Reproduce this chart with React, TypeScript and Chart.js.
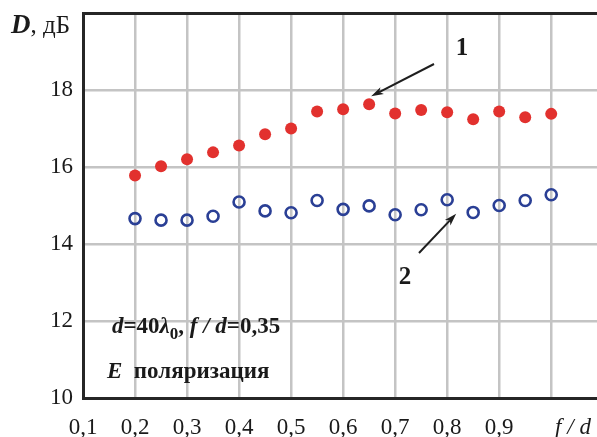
import React, { useEffect, useRef } from "react";
import { Chart, registerables } from "chart.js";

Chart.register(...registerables);

// f/d values of the measured points
const ratios = [0.2, 0.25, 0.3, 0.35, 0.4, 0.45, 0.5, 0.55, 0.6, 0.65, 0.7, 0.75, 0.8, 0.85, 0.9, 0.95, 1.0];
// Directivity, dB — curve 1 (filled markers)
const directivity1 = [15.78, 16.02, 16.2, 16.38, 16.56, 16.85, 17.0, 17.44, 17.5, 17.63, 17.39, 17.48, 17.42, 17.24, 17.44, 17.29, 17.38];
// Directivity, dB — curve 2 (open markers)
const directivity2 = [14.66, 14.62, 14.62, 14.72, 15.09, 14.86, 14.81, 15.13, 14.9, 14.99, 14.76, 14.89, 15.15, 14.82, 15.0, 15.13, 15.28];
// Axis ticks
const xTicks = [0.1, 0.2, 0.3, 0.4, 0.5, 0.6, 0.7, 0.8, 0.9, 1.0];
const yTicks = [10, 12, 14, 16, 18, 20];

const SERIF = '"Liberation Serif", "DejaVu Serif", serif';
const GRID = "#c4c4c4";
const BORDER = "#262626";

function arrow(ctx: CanvasRenderingContext2D, x1: number, y1: number, x2: number, y2: number) {
  const ang = Math.atan2(y2 - y1, x2 - x1);
  const head = 13;
  const spread = 0.3;
  ctx.save();
  ctx.strokeStyle = "#1e1e1e";
  ctx.fillStyle = "#1e1e1e";
  ctx.lineWidth = 2;
  ctx.beginPath();
  ctx.moveTo(x1, y1);
  ctx.lineTo(x2 - Math.cos(ang) * head * 0.7, y2 - Math.sin(ang) * head * 0.7);
  ctx.stroke();
  ctx.beginPath();
  ctx.moveTo(x2, y2);
  ctx.lineTo(x2 - head * Math.cos(ang - spread), y2 - head * Math.sin(ang - spread));
  ctx.lineTo(x2 - head * 0.7 * Math.cos(ang), y2 - head * 0.7 * Math.sin(ang));
  ctx.lineTo(x2 - head * Math.cos(ang + spread), y2 - head * Math.sin(ang + spread));
  ctx.closePath();
  ctx.fill();
  ctx.restore();
}

// Draws a run of text pieces with individual fonts, left to right
function runs(ctx: CanvasRenderingContext2D, x: number, y: number, parts: { t: string; f: string; dy?: number }[]) {
  let cx = x;
  for (const p of parts) {
    ctx.font = p.f;
    ctx.fillText(p.t, cx, y + (p.dy || 0));
    cx += ctx.measureText(p.t).width;
  }
}

const annotations = {
  id: "annotations",
  afterDraw(chart: Chart) {
    const { ctx, scales } = chart;
    const xs = scales.x;
    const ys = scales.y;
    ctx.save();
    ctx.fillStyle = "#1a1a1a";
    ctx.textBaseline = "middle";
    ctx.textAlign = "left";

    // Y axis title
    runs(ctx, 11, 26, [
      { t: "D", f: `bold italic 27px ${SERIF}` },
      { t: ", дБ", f: `25px ${SERIF}` },
    ]);

    // X axis title in place of the 1,0 label
    ctx.font = `italic 23px ${SERIF}`;
    ctx.textAlign = "center";
    ctx.fillText("f / d", 573, 428);
    ctx.textAlign = "left";

    // Parameters
    const b = `bold 23px ${SERIF}`;
    const bi = `bold italic 23px ${SERIF}`;
    runs(ctx, 112, 327, [
      { t: "d", f: bi },
      { t: "=40", f: b },
      { t: "λ", f: bi },
      { t: "0", f: `bold 17px ${SERIF}`, dy: 8 },
      { t: ", ", f: b },
      { t: "f / d", f: bi },
      { t: "=0,35", f: b },
    ]);
    runs(ctx, 107, 372, [
      { t: "E", f: bi },
      { t: "  поляризация", f: b },
    ]);

    // Curve labels and pointers
    ctx.font = `bold 25px ${SERIF}`;
    ctx.textAlign = "center";
    ctx.fillText("1", 462, 49);
    ctx.fillText("2", 405, 278);

    const p1 = { x: xs.getPixelForValue(0.65), y: ys.getPixelForValue(directivity1[9]) };
    arrow(ctx, 434, 64, p1.x + 2, p1.y - 8);
    const p2 = { x: xs.getPixelForValue(0.8), y: ys.getPixelForValue(directivity2[12]) };
    arrow(ctx, 419, 253, p2.x + 9, p2.y + 14);
    ctx.restore();
  },
};

const noAutoPadding = (s: any) => {
  s.paddingTop = 0;
  s.paddingBottom = 0;
  s.paddingLeft = 0;
  s.paddingRight = 0;
};

export default function App() {
  const ref = useRef<HTMLCanvasElement | null>(null);

  useEffect(() => {
    document.body.style.margin = "0";
    if (!ref.current) return;
    const chart = new Chart(ref.current, {
      type: "scatter",
      data: {
        datasets: [
          {
            label: "1",
            data: ratios.map((x, i) => ({ x, y: directivity1[i] })),
            pointStyle: "circle",
            pointRadius: 6,
            pointBackgroundColor: "#e2312e",
            pointBorderColor: "#e2312e",
            pointBorderWidth: 0,
            showLine: false,
          },
          {
            label: "2",
            data: ratios.map((x, i) => ({ x, y: directivity2[i] })),
            pointStyle: "circle",
            pointRadius: 5.5,
            pointBackgroundColor: "rgba(0,0,0,0)",
            pointBorderColor: "#2a3f95",
            pointBorderWidth: 2.6,
            showLine: false,
          },
        ],
      },
      options: {
        animation: false,
        responsive: true,
        maintainAspectRatio: false,
        layout: { autoPadding: false, padding: { top: 13, left: 0, right: 0, bottom: 0 } },
        plugins: { legend: { display: false }, tooltip: { enabled: false } },
        scales: {
          x: {
            type: "linear",
            min: 0.1,
            max: 1.088,
            afterBuildTicks: (s: any) => {
              s.ticks = xTicks.map((v) => ({ value: v }));
            },
            afterFit: (s: any) => {
              s.height = 39;
              noAutoPadding(s);
            },
            grid: {
              color: (c: any) => (c.tick && Math.abs(c.tick.value - 0.1) < 1e-6 ? BORDER : GRID),
              lineWidth: 2.5,
              drawTicks: false,
            },
            border: { color: BORDER, width: 3 },
            ticks: {
              padding: 16,
              color: "#1a1a1a",
              font: { family: SERIF, size: 23 },
              callback: (v: any) => (Math.abs(v - 1) < 1e-6 ? "" : Number(v).toFixed(1).replace(".", ",")),
            },
          },
          y: {
            type: "linear",
            min: 10,
            max: 20,
            afterBuildTicks: (s: any) => {
              s.ticks = yTicks.map((v) => ({ value: v }));
            },
            afterFit: (s: any) => {
              s.width = 83;
              noAutoPadding(s);
            },
            grid: {
              color: (c: any) => (c.tick && c.tick.value === 20 ? BORDER : GRID),
              lineWidth: (c: any) => (c.tick && c.tick.value === 20 ? 3 : 2.5),
              drawTicks: false,
            },
            border: { color: BORDER, width: 3 },
            ticks: {
              padding: 10,
              color: "#1a1a1a",
              font: { family: SERIF, size: 23 },
              callback: (v: any) => (v === 20 ? "" : String(v)),
            },
          },
        },
      },
      plugins: [annotations],
    });
    return () => chart.destroy();
  }, []);

  return (
    <div style={{ position: "relative", width: 597, height: 437, background: "#fff" }}>
      <canvas ref={ref} />
    </div>
  );
}
